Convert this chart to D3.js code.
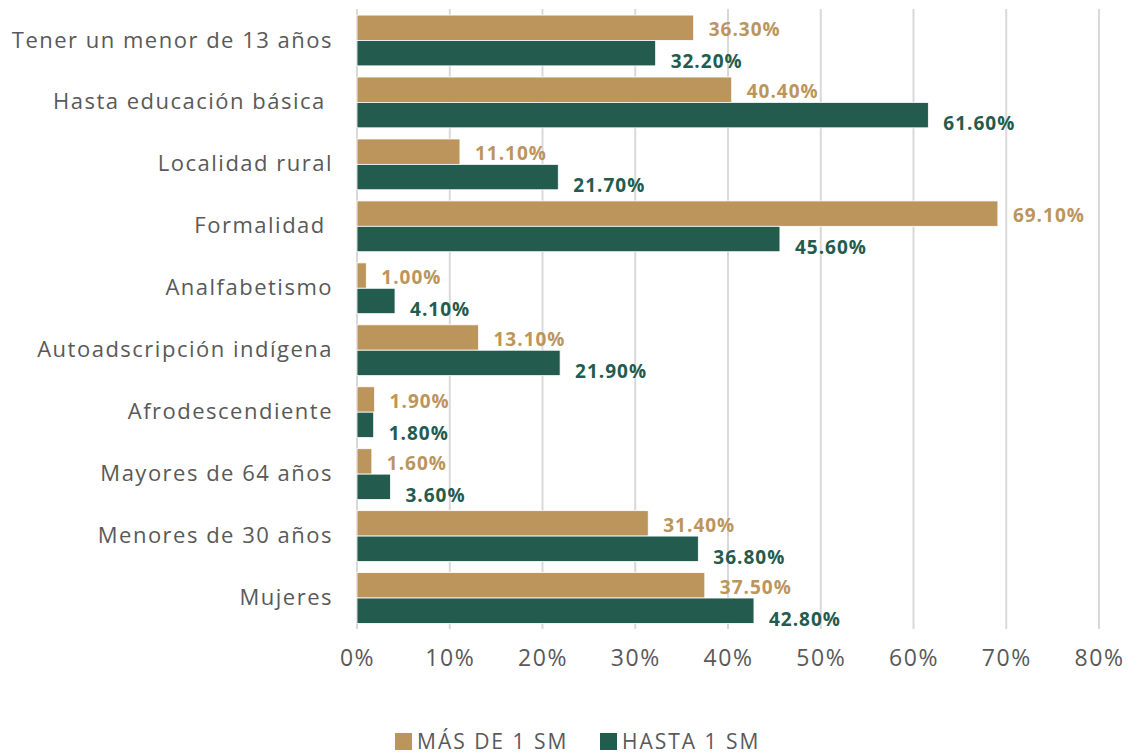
<!DOCTYPE html>
<html><head><meta charset="utf-8">
<script src="https://cdn.jsdelivr.net/npm/d3@7"></script>
<style>
body{margin:0;background:#fff;}
svg{font-family:"Open Sans","Noto Sans",sans-serif;}
</style></head>
<body><svg id="c" width="1129" height="755"></svg>
<script>
const categories = ["Tener un menor de 13 años","Hasta educación básica ","Localidad rural","Formalidad ","Analfabetismo","Autoadscripción indígena","Afrodescendiente","Mayores de 64 años","Menores de 30 años","Mujeres"];
const seriesNames = ["MÁS DE 1 SM","HASTA 1 SM"];
const masDe1SM = [36.3,40.4,11.1,69.1,1.0,13.1,1.9,1.6,31.4,37.5];
const hasta1SM = [32.2,61.6,21.7,45.6,4.1,21.9,1.8,3.6,36.8,42.8];
const xTicks = [0,10,20,30,40,50,60,70,80];
const colors = ["#bc955c","#235b4e"];
const labelColors = ["#bc955c","#235b4e"];

const svg = d3.select("#c");
const x = d3.scaleLinear().domain([0,80]).range([357,1099]);
const y = d3.scaleBand().domain(categories).range([9.5,629]).paddingInner(0.18).paddingOuter(0.09);
const y1 = d3.scaleBand().domain(seriesNames).range([0,y.bandwidth()]);

// gridlines
svg.append("g").selectAll("line").data(xTicks).join("line")
  .attr("x1",d=>x(d)).attr("x2",d=>x(d)).attr("y1",9).attr("y2",629)
  .attr("stroke","#d9d9d9").attr("stroke-width",2);

// x axis labels
const xAxis = d3.axisBottom(x).tickValues(xTicks).tickFormat(d=>d+"%").tickSize(0).tickPadding(0);
const gx = svg.append("g").attr("transform","translate(0,650)").call(xAxis);
gx.select(".domain").remove();
gx.selectAll("text").attr("font-size",23).attr("fill","#595959").attr("font-family","'Open Sans',sans-serif").attr("dy","0.71em").attr("letter-spacing","1.5px");

// y axis labels
const yAxis = d3.axisLeft(y).tickSize(0).tickPadding(24);
const gy = svg.append("g").attr("transform","translate(357,0)").call(yAxis);
gy.select(".domain").remove();
gy.selectAll("text").attr("font-size",22).attr("fill","#595959").attr("font-family","'Open Sans',sans-serif").style("white-space","pre").attr("letter-spacing","1.5px");

const data = categories.map((c,i)=>({c, vals:[masDe1SM[i],hasta1SM[i]]}));
const groups = svg.append("g").selectAll("g").data(data).join("g")
  .attr("transform",d=>`translate(0,${y(d.c)})`);
groups.selectAll("rect").data(d=>d.vals.map((v,j)=>({v,j}))).join("rect")
  .attr("x",x(0)).attr("y",d=>y1(seriesNames[d.j]))
  .attr("width",d=>x(d.v)-x(0)).attr("height",y1.bandwidth())
  .attr("fill",d=>colors[d.j]).attr("stroke","#fff").attr("stroke-width",0.8);
groups.selectAll("text").data(d=>d.vals.map((v,j)=>({v,j}))).join("text")
  .attr("x",d=>x(d.v)+15)
  .attr("y",d=>y1(seriesNames[d.j])+y1.bandwidth()/2+(d.j===0?2:8.5))
  .attr("dy","0.35em")
  .attr("font-size",19).attr("font-weight",700).attr("letter-spacing","1px")
  .attr("fill",d=>labelColors[d.j])
  .text(d=>d.v.toFixed(2)+"%");

// legend
const legX = [395,600];
const leg = svg.append("g").selectAll("g").data(seriesNames).join("g")
  .attr("transform",(d,i)=>`translate(${legX[i]},733)`);
leg.append("rect").attr("width",17).attr("height",17).attr("fill",(d,i)=>colors[i]);
leg.append("text").attr("x",22).attr("y",8.5).attr("dy","0.35em").attr("font-size",21)
  .attr("fill","#595959").attr("letter-spacing","2px").text(d=>d);
</script></body></html>
